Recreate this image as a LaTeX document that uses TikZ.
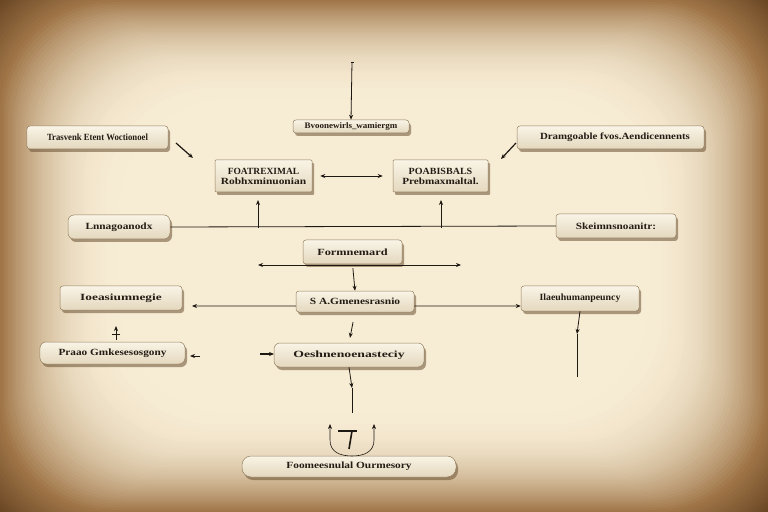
\documentclass[tikz,border=0pt]{standalone}
\usepackage{graphicx}
\usepackage{fontspec}
\setmainfont{Liberation Serif}
\usetikzlibrary{shadows,arrows.meta,calc}
\definecolor{paper}{RGB}{247,236,212}
\definecolor{darkc}{RGB}{160,118,72}
\definecolor{cornerc}{RGB}{78,46,18}
\definecolor{boxtop}{RGB}{249,244,230}
\definecolor{boxbot}{RGB}{228,216,190}
\definecolor{boxline}{RGB}{150,128,96}
\definecolor{shadowc}{RGB}{105,80,50}
\definecolor{inkc}{RGB}{36,28,20}
\definecolor{linec}{RGB}{30,24,18}
\newcommand\sx[2]{\scalebox{#1}[1]{#2}}
\begin{document}
\begin{tikzpicture}[x=1bp,y=-1bp,
  box/.style={draw=boxline, line width=0.5bp, top color=boxtop, bottom color=boxbot,
    rounded corners=3bp, inner sep=0pt, text=inkc, align=center,
    font=\bfseries\fontsize{9.5}{11}\selectfont,
    drop shadow={shadow xshift=2bp, shadow yshift=-3bp, fill=shadowc, opacity=0.55}},
  pill/.style={box, rounded corners=6bp},
  conn/.style={draw=linec, line width=0.8bp},
  arr/.style={conn, -{Stealth[length=5bp,width=4bp]}},
  darr/.style={conn, {Stealth[length=5bp,width=4bp]}-{Stealth[length=5bp,width=4bp]}}
]
\useasboundingbox (0,0) rectangle (768,512);
% parchment vignette
\fill[cornerc] (0,0) rectangle (768,512);
\foreach \i in {0,...,64}{
  \pgfmathsetmacro\d{-60+\i*3}
  \pgfmathtruncatemacro\m{\d<0 ? 100*(1+\d/60) : 100*(1-(1-\d/132)^2.2)}
  \ifdim\d pt<0pt
    \colorlet{layerc}{darkc!\m!cornerc}
  \else
    \colorlet{layerc}{paper!\m!darkc}
  \fi
  \fill[layerc, rounded corners=110bp] (\d*0.9,\d*0.75) rectangle (768-\d*0.9,512-\d*0.75);
}

% boxes
\node[box, minimum width=141bp, minimum height=23bp] (b1) at (97.5,137.5) {\sx{0.92}{Trasvenk Etent Woctionoel}};
\node[box, minimum width=116bp, minimum height=13bp, font=\bfseries\fontsize{8.5}{9}\selectfont] (b2) at (351,126.5) {\sx{1.06}{Bvoonewirls\_wamiergm}};
\node[box, minimum width=187bp, minimum height=23bp] (b3) at (610.5,137.5) {\hspace*{9bp}\sx{1.15}{Dramgoable fvos.Aendicennents}};
\node[box, minimum width=97bp, minimum height=32bp, rounded corners=1bp] (b4) at (263.5,176) {\sx{1.0}{FOATREXIMAL}\\[-1bp]\sx{1.21}{Robhxminuonian}};
\node[box, minimum width=95bp, minimum height=32bp, rounded corners=1bp] (b5) at (440.5,176) {\sx{1.06}{POABISBALS}\\[-1bp]\sx{1.18}{Prebmaxmaltal.}};
\node[pill, minimum width=102bp, minimum height=24bp] (b6) at (119,227) {\sx{1.2}{Lnnagoanodx}};
\node[box, minimum width=120bp, minimum height=24bp] (b7) at (616,226) {\sx{1.19}{Skeimnsnoanitr:}};
\node[box, minimum width=99bp, minimum height=24bp] (b8) at (352.5,252) {\sx{1.3}{Formnemard}};
\node[box, minimum width=122bp, minimum height=24bp] (b9) at (121,298) {\sx{1.41}{Ioeasiumnegie}};
\node[box, minimum width=118bp, minimum height=21bp] (b10) at (355,301.5) {\sx{1.21}{S A.Gmenesrasnio}};
\node[box, minimum width=118bp, minimum height=25bp] (b11) at (580,298.5) {\sx{1.04}{Ilaeuhumanpeuncy}};
\node[pill, minimum width=145bp, minimum height=22bp] (b12) at (112.5,353) {\sx{1.19}{Praao Gmkesesosgony}};
\node[pill, minimum width=150bp, minimum height=24bp] (b13) at (349,355) {\sx{1.45}{Oeshnenoenasteciy}};
\node[pill, minimum width=214bp, minimum height=21bp, rounded corners=9bp] (b14) at (349,466.5) {\sx{1.2}{Foomeesnulal Ourmesory}};

% free ends
\coordinate (t2) at (352,62);
\coordinate (a1s) at (176,143);
\coordinate (a1e) at (193,158);
\coordinate (a3s) at (516,143);
\coordinate (a3e) at (501,159);
\coordinate (u4s) at (258,228);
\coordinate (u4e) at (258,200);
\coordinate (u5s) at (441,228);
\coordinate (u5e) at (441,200);
\coordinate (h8l) at (258,265);
\coordinate (h8r) at (461,265);
\coordinate (l9) at (192,306);
\coordinate (s9a) at (116,340);
\coordinate (s9b) at (116,326);
\coordinate (s12a) at (200,356);
\coordinate (s12b) at (190,356);
\coordinate (s13a) at (260,354);
\coordinate (s13b) at (274,354);
\coordinate (m11) at (577,334);
\coordinate (e11) at (577,377);
\coordinate (m13) at (352,388);
\coordinate (e13) at (352,413);

% connectors
\draw[arr] (t2) -- (b2.north);
\draw[conn, line width=0.4bp] ($(t2)+(-1.5,0)$) -- ($(t2)+(1.5,0)$);
\draw[arr, line width=1.2bp] (a1s) -- (a1e);
\draw[arr, line width=1.2bp] (a3s) -- (a3e);
\draw[darr, shorten <=8bp, shorten >=10bp] (b4.east) -- (b5.west);
\draw[arr] (u4s) -- (u4e);
\draw[arr] (u5s) -- (u5e);
\draw[conn] (b6.east) -- (b7.west);
\draw[darr] (h8l) -- (h8r);
\draw[arr, shorten <=4bp] (b8.south) -- (b10.north);
\draw[arr] ($(b10.west)+(0,4.5)$) -- (l9);
\draw[arr] ($(b10.east)+(0,4.5)$) -- (b11.west |- 0,306);
\draw[arr] (s9a) -- (s9b);
\draw[conn] (112,334) -- (120,334);
\draw[arr, shorten <=10bp, shorten >=5bp] (b10.south) -- (b13.north);
\draw[arr] (s12a) -- (s12b);
\draw[arr, line width=1.2bp] (s13a) -- (s13b);
\draw[arr] (b11.south) -- (m11);
\draw[conn, line width=0.5bp] (m11) -- (e11);
\draw[arr] (b13.south) -- (m13);
\draw[conn] (m13) -- (e13);

% bracket mark above bottom box
\draw[conn, line width=0.6bp, {Stealth[length=5bp,width=4bp]}-{Stealth[length=5bp,width=4bp]}]
  (330,424) -- (330,440) .. controls (330,452) and (340,456) .. (352,456)
  .. controls (364,456) and (374,452) .. (374,440) -- (374,424);
\draw[conn, line width=2.2bp] (338,431) -- (357,431);
\draw[conn, line width=1.6bp] (352,431) -- (349,449);
\end{tikzpicture}
\end{document}
